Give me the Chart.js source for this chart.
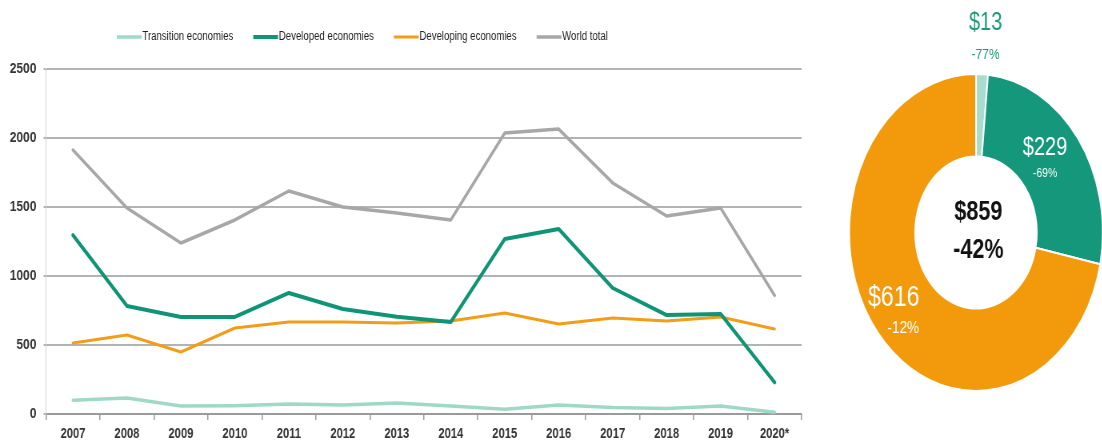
<!DOCTYPE html>
<html>
<head>
<meta charset="utf-8">
<script src="https://cdn.jsdelivr.net/npm/chart.js@4"></script>
<style>
    html, body { margin: 0; padding: 0; background: #fff; }
    body { width: 1102px; height: 442px; position: relative; overflow: hidden; }
    /* both canvases are drawn wide and squeezed to give the narrow type of the original */
    #lineChart { position: absolute; left: 0; top: 0; transform: scaleX(0.8); transform-origin: 0 0; }
    #donutChart { position: absolute; left: 816px; top: 0; transform: scaleX(0.8); transform-origin: 160px 0; }
</style>
</head>
<body>
<canvas id="lineChart" width="1012" height="442"></canvas>
<canvas id="donutChart" width="320" height="442"></canvas>
<script>
const years = ['2007', '2008', '2009', '2010', '2011', '2012', '2013', '2014', '2015', '2016', '2017', '2018', '2019', '2020*'];
const seriesNames = ['Transition economies', 'Developed economies', 'Developing economies', 'World total'];
const transition = [100, 116, 58, 60, 72, 65, 80, 58, 35, 65, 47, 40, 58, 13];
const developed = [1297, 783, 703, 703, 877, 761, 705, 667, 1268, 1341, 913, 717, 725, 229];
const developing = [514, 572, 449, 623, 667, 667, 660, 674, 732, 652, 696, 674, 703, 616];
const worldTotal = [1913, 1493, 1239, 1406, 1616, 1500, 1457, 1406, 2036, 2065, 1674, 1435, 1493, 859];
const yTicks = [0, 500, 1000, 1500, 2000, 2500];

// 2020 split shown in the ring
const shareNames = ['Transition economies', 'Developed economies', 'Developing economies'];
const share2020 = [13, 229, 616];
const shareChange = [-77, -69, -12];
const total2020 = 859;
const totalChange = -42;

const colors = ['#9fd9c6', '#0f9576', '#f39c16', '#a7a7a7'];
const widths = [3.5, 4, 3, 3.5];
const sans = "'Liberation Sans', Arial, sans-serif";

// legend drawn as a row of line swatches above the plot
const lineLegend = {
    id: 'lineLegend',
    afterDraw(chart) {
        const ctx = chart.ctx;
        let x = 146;
        const y = 37;
        ctx.save();
        ctx.font = '12px ' + sans;
        ctx.textBaseline = 'middle';
        chart.data.datasets.forEach(function (ds) {
            ctx.strokeStyle = ds.borderColor;
            ctx.lineWidth = ds.borderWidth;
            ctx.beginPath();
            ctx.moveTo(x, y);
            ctx.lineTo(x + 31, y);
            ctx.stroke();
            ctx.fillStyle = '#222';
            ctx.fillText(ds.label, x + 32, y);
            x += 32 + ctx.measureText(ds.label).width + 25;
        });
        ctx.restore();
    }
};

new Chart(document.getElementById('lineChart'), {
    type: 'line',
    data: {
        labels: years,
        datasets: [transition, developed, developing, worldTotal].map(function (values, i) {
            return {
                label: seriesNames[i],
                data: values,
                borderColor: colors[i],
                backgroundColor: colors[i],
                borderWidth: widths[i],
                pointRadius: 0,
                tension: 0,
                borderJoinStyle: 'round',
                borderCapStyle: 'round'
            };
        })
    },
    options: {
        responsive: false,
        animation: false,
        layout: { padding: { top: 69, right: 10, bottom: 0, left: 0 } },
        plugins: { legend: { display: false }, tooltip: { enabled: false } },
        scales: {
            x: {
                offset: true,
                grid: { offset: true, drawOnChartArea: false, drawTicks: true, tickLength: 6, color: '#9a9a9a', lineWidth: 1.5 },
                border: { color: '#9a9a9a', width: 2 },
                ticks: { color: '#333', padding: 6, font: { family: sans, size: 14, weight: 'bold' }, maxRotation: 0 },
                afterFit: function (scale) { scale.height = 28; }
            },
            y: {
                min: 0,
                max: 2500,
                afterBuildTicks: function (scale) { scale.ticks = yTicks.map(function (v) { return { value: v }; }); },
                grid: { color: '#b3b3b3', lineWidth: 2, drawTicks: true, tickLength: 3 },
                border: { color: '#d0d0d0', width: 1 },
                ticks: {
                    color: '#333',
                    padding: 9,
                    font: { family: sans, size: 15, weight: 'bold' },
                    callback: function (value) { return String(value); }
                },
                afterFit: function (scale) { scale.width = 57.5; }
            }
        }
    },
    plugins: [lineLegend]
});

// value and change labels on the ring and in its hole
const ringLabels = {
    id: 'ringLabels',
    afterDraw(chart) {
        const ctx = chart.ctx;
        const arcs = chart.getDatasetMeta(0).data;
        const cx = arcs[0].x;
        const cy = arcs[0].y;
        ctx.save();
        ctx.textAlign = 'center';
        ctx.textBaseline = 'middle';

        // small slice: label sits above the ring
        ctx.fillStyle = '#1b9a7b';
        ctx.font = '25px ' + sans;
        ctx.fillText('$' + share2020[0], cx + 12, chart.chartArea.top - 50);
        ctx.font = '15px ' + sans;
        ctx.fillText(shareChange[0] + '%', cx + 12, chart.chartArea.top - 18);

        ctx.fillStyle = '#fff';
        const p1 = arcs[1].tooltipPosition();
        ctx.font = '25px ' + sans;
        ctx.fillText('$' + share2020[1], p1.x - 8, p1.y - 15);
        ctx.font = '13px ' + sans;
        ctx.fillText(shareChange[1] + '%', p1.x - 8, p1.y + 11);

        const p2 = arcs[2].tooltipPosition();
        ctx.font = '29px ' + sans;
        ctx.fillText('$' + share2020[2], p2.x - 12, p2.y - 9);
        ctx.font = '17px ' + sans;
        ctx.fillText(shareChange[2] + '%', p2.x, p2.y + 22);

        ctx.fillStyle = '#111';
        ctx.font = 'bold 27px ' + sans;
        ctx.fillText('$' + total2020, cx + 3, cy - 20);
        ctx.fillText(totalChange + '%', cx + 3, cy + 18);
        ctx.restore();
    }
};

new Chart(document.getElementById('donutChart'), {
    type: 'doughnut',
    data: {
        labels: shareNames,
        datasets: [{
            data: share2020,
            backgroundColor: ['#a8dccf', '#14977a', '#f39a0c'],
            borderColor: '#fff',
            borderWidth: 2
        }]
    },
    options: {
        responsive: false,
        animation: false,
        cutout: '48%',
        layout: { padding: { top: 73, bottom: 50, left: 0, right: 0 } },
        plugins: { legend: { display: false }, tooltip: { enabled: false } }
    },
    plugins: [ringLabels]
});
</script>
</body>
</html>
